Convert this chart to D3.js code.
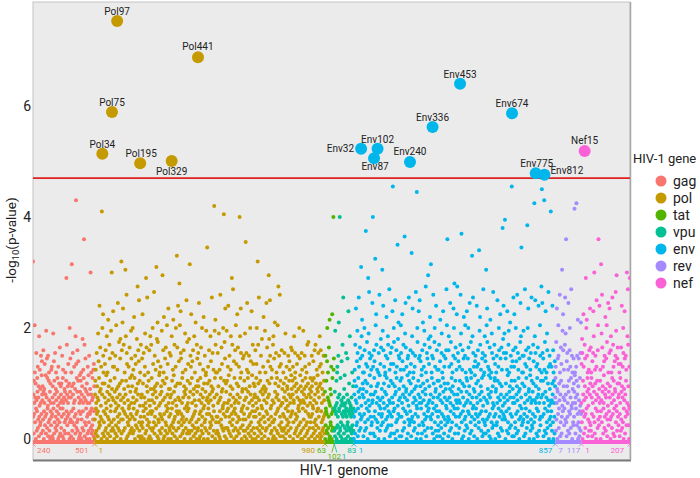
<!DOCTYPE html>
<html><head><meta charset="utf-8">
<script src="https://cdn.jsdelivr.net/npm/d3@7"></script>
<style>body{margin:0;background:#fff}svg{display:block}</style>
</head><body>
<script>
// ---------------- DATA ----------------
const genes = ["gag","pol","tat","vpu","env","rev","nef"];
const geneStart = [240,1,63,1,1,7,1];
const geneEnd   = [501,980,102,83,857,117,207];
const geneColors = ["#F8766D","#C49A00","#53B400","#00C094","#00B6EB","#A58AFF","#FB61D7"];
const yTicks = [0,2,4,6];
const threshold = 4.70;

// -log10(p) per position, one character each: value = (charCode - 35) / 20
const gagCodes = [
"c+3%8,0L;)27#.B1&-94='*26$H+/<(5)0A%,:?3",
"16&*C4#-50>(+3:%J,2@'9./A$)8;1&*4#7-0(<+",
"=$,26#I.0?%8)3B'+5;1&-4(9*/#=,27$)D0%.63",
"'7+1A$.9<0#,2&5)4%;*18]-E3(+60>%,27#K)4@",
"*2$;-b6&)B3#.70=(+15%H,y>'9)4C&*8?2#-0$:",
"4%,81;#*36'G-0<&9k2E$)5@1(.4#7+0%=,3:&)A",
"0#,5-_'3;%.1(9&2*<$>-6"];
const polCodes = [
"#*38%<.0&B,62$-I1?'9)S4(D+5/=#*u3K7%PA;-",
")$72>&,C0':.H#4;+%N16*(E3@$8-/J&)_52B'=Q",
"1&*=#94-A%0(L.5$2<+T'6/)F&,37@G#1*c%C8.M",
"*R2&E-50;',`3H8#WB>+$)16(=./%D*94&,J0@':",
"6+K%2<.&O09*#A4>(5,1G'-Z73C$?U)&8/;#+E2(",
"$3@)P'7/-B#+2:=I%0.]&D6*V4(,;#81)C$/'H-5",
"#E,91&-K3>'5)X0%A+64<(.a2G7$MF?*#)/:&;,3",
"0=%6+4J'*^81C#;O,$72@&)D/(9-L%3>.#R05+'B",
"&52,A#3(H.8%0<)N':4*E$+16=K&/-e#D7,S2')?",
"-[1L7$QB@,(*09%;+2&C)64#.I3<'5*U/%F-80>&",
".2G%)b74A#=P*&90?(+C3$5,H'1;-%M/6)#E4@&8",
"'B6*T1#,>$93-D&0(K+5%2<.O#7/)A'*4:;J&1,h",
"27#=.0%C,83')H1?(6+V4$B*5/<&-w2J9#NE;)%+",
"3;&+B0%6)I$1<-#W29*(D4>'5./K&,t80F$@R+'7",
"4#J-8'0=.S&:1+A%)36<H$/,](E5*Y2&-?#90.C'",
",L1>$7)P3&D+60=%*s2H9'RB;-#.45(@*/&A,81$",
"I&*j52B#<T.'94;%+A0(6,K$3?)&Q1:-#E/>'7+2",
"%63-C#+09>K'2.c$E7)V1&,;(84*A%/#G.5'3=+O",
"+61$)J4;&5-T0'D,82?#*^3G7(UA=.%+/9&<)1#E",
")H$0@*'M47,#B2;&9-3L%.Z61A(=W+$8/>')C0&5",
"0$,;&72+B'4#I.9%1=*6(5/-A&)38?<$0+2'D:,5",
"C-83=#)10H6%9B;,&*47'>+2$A.5/(-K1@%:)60#",
"&B4<#8.1J'*350A$=9-(62;%)E/&7,F#3>+'509)",
"2+4$A6,8/'.?%91)C#3&E*7(0<-5$:4.B'+26=H%",
"#7C>-$)05&;*3'A+81%,G2@(6.94#B):/=$*20F7"];
const tatCodes = [
"4#A(.-8&,?K%2;'1+D#0N$/5)(3=,#&P9'-.s<@'+"];
const vpuCodes = [
"&.4$J-/,'8#0;=(+2A%M-.3s'&9$)/1?,#0E(+V2-",
"%5/:'-,0#B.&+3(@)$1Q-'7,0H&.#/+'2%-;(,#6&.9"];
const envCodes = [
"#+38<%E-1R6(0?)JB$.94V=&2,D5@'*a/H+NA37;",
"5$2;,KC&)80n>'4.F7=#*]1I-XB/:@%+36<(A)0T",
"1s=%3+C9?$-d4L*PE06<')27;#B,/W:&1>.GD(+5",
",`2J)SC07=#.4:;&A*3O9'/@+HE(-61Y<$0,B8>%",
"(D+2Q7~0>-KF%.63U;#4)C9=&*i/G,MA15@$+28<",
"LB$+90P?&3.E6<')l2I-TD45=#,1:@%A*/V8(3;)",
"-C7>$*f4H+RB09;&)25='A,1X6#/|.KF%+83Q@(0",
"UA26?#.0:<%C)4M7(1=,JE&*53Z;$/+B8@'-^0G.",
">61DO+H3b*';9A,0%@W27.#FK)=4&5S/-C$<82+(",
"&<8E-3$?N16)'BI,;0#9Q4+A%=72*(@5/CY.L1k)",
"7+$CH*=2&5T0-F'>94)#;6/AR,K3[.%@8D+1(<P0",
"Z3.B%?51+'=80EW,I4m)#<7C-2$@O/6*&AL+;0(9",
"4Q8'1@-KD#,63T<%0)F9;&+e2H.VB/5=$*4:?(A,",
".72S=#0+C8>')g3J,OE16<&-49@$B*/Y:%2;)HA(",
"?%-`1L*RF05=&+3:<$D,2N9#4;)IB'.60X@(/+E8",
"9>#,45;(A)0U8%2=.KC$+71P@'3-D6<&*o/G,SB2",
"+I0r*#@7B-3&<Q1:)%EJ.;4'6M2,A(=8~+$?50CV",
"2$=P08)'DK,?3%6W1-B&<94*#@5/FT+H2h.(;7A)",
";*JA$,60Y>%3.C9='+p1K)RD45@#-2:<&B*0V8(1",
"'4,E7?#)x1H+UB06=%.29>$D-3S5&0<*LA(+82Z;",
"}+TB38@$,0y<&F.4Q9%2;)IC'-71X=#/*A5>(+u0",
"-=1&7S3)C#;80+%?62AO)J4'5.<"];
const revCodes = [
"29=&F*0R5#4@,LA'.71W;$3)D8>%+`/J-PC26<(.",
"1EV*I3k)$?6B+0&<T48-%CK,=2'9Y/.A#;50)(@7",
"+4v:;0%2.=x8(A3,N#6)@1'$-9/B&M,"];
const nefCodes = [
"0>)GB#-83P=%1+E6@',]2K.NA49;$*/5<&C)3R7(",
"D&;92,$?60BQ+H4_)%<7A.1#=U38-'CL*k2(5S0+",
"8<#-b1I)WD46=%.0:?'A+3O5&2@,LF$*7/T;(4-B",
"R26*#CH+;0'9V3,E%=81.$?54AX)J/^-&@7D+2(>",
"37;$,09>&D*4S6'2=)KB#.51Q@%3+A8<(-_0H,YE",
"6(/#=.]9"];

// significant hits
const hitLabel = ["Pol34","Pol75","Pol97","Pol195","Pol329","Pol441","Env32","Env87","Env102","Env240","Env336","Env453","Env674","Env775","Env812","Nef15"];
const hitGene  = ["pol","pol","pol","pol","pol","pol","env","env","env","env","env","env","env","env","env","nef"];
const hitPos   = [34,75,97,195,329,441,32,87,102,240,336,453,674,775,812,15];
const hitVal   = [5.14,5.89,7.53,4.97,5.01,6.88,5.23,5.06,5.23,4.99,5.62,6.40,5.87,4.79,4.76,5.19];

// ---------------- DRAW ----------------
const W = 700, H = 478;
const P = {l:33, r:630, t:2, b:460};
const codeSets = [gagCodes, polCodes, tatCodes, vpuCodes, envCodes, revCodes, nefCodes];
const lens = genes.map((g,i)=>geneEnd[i]-geneStart[i]+1);
const offs = []; lens.reduce((a,b,i)=>{offs[i]=a; return a+b;},0);
const total = d3.sum(lens);
const color = d3.scaleOrdinal().domain(genes).range(geneColors);

const x = d3.scaleLinear().domain([0,total]).range([P.l,P.r]);
const y = d3.scaleLinear().domain([0,6]).range([439,106]);

const pts = [];
codeSets.forEach((arr,k)=>{
  const s = arr.join("");
  for (let i=0;i<Math.min(s.length,lens[k]);i++){
    pts.push({gene:genes[k], idx:offs[k]+i, v:(s.charCodeAt(i)-35)/20});
  }
});

const svg = d3.select("body").append("svg").attr("width",W).attr("height",H)
  .style("font-family","Roboto, 'Noto Sans', sans-serif");

svg.append("defs").append("clipPath").attr("id","pc")
  .append("rect").attr("x",P.l).attr("y",P.t).attr("width",P.r-P.l).attr("height",P.b-P.t);

svg.append("rect").attr("x",P.l).attr("y",P.t).attr("width",P.r-P.l).attr("height",P.b-P.t)
  .attr("fill","#ebebeb").attr("stroke","#c4c4c4").attr("stroke-width",1);
svg.append("line").attr("x1",P.l).attr("x2",P.r+1).attr("y1",P.b+0.5).attr("y2",P.b+0.5)
  .attr("stroke","#7a7a7a").attr("stroke-width",2);
svg.append("line").attr("x1",P.r+0.5).attr("x2",P.r+0.5).attr("y1",P.t).attr("y2",P.b)
  .attr("stroke","#a6a6a6").attr("stroke-width",1.5);

const plot = svg.append("g").attr("clip-path","url(#pc)");

plot.append("g").selectAll("circle").data(pts).join("circle")
  .attr("cx",d=>x(d.idx)).attr("cy",d=>y(d.v)).attr("r",2)
  .attr("fill",d=>color(d.gene));

plot.append("line").attr("x1",P.l).attr("x2",P.r).attr("y1",y(threshold)).attr("y2",y(threshold))
  .attr("stroke","#e02020").attr("stroke-width",1.6);

const hits = hitLabel.map((l,i)=>{
  const k = genes.indexOf(hitGene[i]);
  return {label:l, gene:hitGene[i], idx:offs[k]+hitPos[i]-geneStart[k], v:hitVal[i]};
});
plot.append("g").selectAll("circle").data(hits).join("circle")
  .attr("cx",d=>x(d.idx)).attr("cy",d=>y(d.v)).attr("r",6)
  .attr("fill",d=>color(d.gene));

// label placement (ggrepel-like)
const place = {
  Pol97:["middle",0,-6], Pol441:["middle",0,-7], Pol75:["middle",0,-6], Pol34:["middle",0,-6],
  Pol195:["middle",1,-6], Pol329:["middle",0,14], Env32:["end",-7,3], Env87:["middle",1,12],
  Env102:["middle",0,-6], Env240:["middle",0,-7], Env336:["middle",0,-6], Env453:["middle",0,-6],
  Env674:["middle",0,-6], Env775:["middle",1,-6], Env812:["start",6,-1], Nef15:["middle",0,-7]
};
svg.append("g").selectAll("text").data(hits).join("text")
  .attr("x",d=>x(d.idx)+place[d.label][1]).attr("y",d=>y(d.v)+place[d.label][2])
  .attr("text-anchor",d=>place[d.label][0])
  .attr("font-size",10).attr("fill","#222").text(d=>d.label);

// gene strip
const strip = svg.append("g");
genes.forEach((g,k)=>{
  const xs = x(offs[k]), xe = x(offs[k]+lens[k]);
  strip.append("rect").attr("x",xs).attr("y",440).attr("width",xe-xs).attr("height",4).attr("fill",color(g));
});
// strip labels
const lab = svg.append("g").attr("font-size",8);
genes.forEach((g,k)=>{
  const xs = x(offs[k]), xe = x(offs[k]+lens[k]);
  let sx = xs+4, sy = 452.5, sa = "start";
  let ex = xe-6, ey = 452.5, ea = "end";
  if (g==="pol"){ ex = xe-10; }
  if (g==="tat"){ sx = xs+1; sa = "end"; ex = xs+2.5; ey = 458.5; ea = "start"; }
  if (g==="vpu"){ sx = xs+7.5; sy = 458.5; ex = xe+2.5; }
  if (g==="env"){ sx = xs+5; ex = xe-3; }
  if (g==="rev"){ sx = xs+3; ex = xe-1; }
  lab.append("text").attr("x",sx).attr("y",sy).attr("text-anchor",sa).attr("fill",color(g)).text(geneStart[k]);
  lab.append("text").attr("x",ex).attr("y",ey).attr("text-anchor",ea).attr("fill",color(g)).text(geneEnd[k]);
  lab.append("path").attr("d",`M${xs},444 L${xs+2.5},${sy-6}`).attr("stroke",color(g)).attr("fill","none").attr("stroke-width",0.8);
  lab.append("path").attr("d",`M${xe},444 L${xe-2.5},${ey-6}`).attr("stroke",color(g)).attr("fill","none").attr("stroke-width",0.8);
});

// y axis
svg.append("g").selectAll("text").data(yTicks).join("text")
  .attr("x",31).attr("y",d=>y(d)+5).attr("text-anchor","end")
  .attr("font-size",14).attr("fill","#222").text(d=>d);

const yl = svg.append("text").attr("transform","translate(16,240) rotate(-90)")
  .attr("text-anchor","middle").attr("font-size",13.5).attr("fill","#222");
yl.append("tspan").text("-log");
yl.append("tspan").attr("font-size",9.5).attr("dy",3).text("10");
yl.append("tspan").attr("dy",-3).text("(p-value)");

svg.append("text").attr("x",344).attr("y",475).attr("text-anchor","middle")
  .attr("font-size",14).attr("fill","#222").text("HIV-1 genome");

// legend
const lg = svg.append("g");
lg.append("text").attr("x",633).attr("y",163).attr("font-size",13).attr("fill","#222").text("HIV-1 gene");
genes.forEach((g,k)=>{
  lg.append("circle").attr("cx",661).attr("cy",181+k*17).attr("r",5.5).attr("fill",color(g));
  lg.append("text").attr("x",673).attr("y",186+k*17).attr("font-size",14).attr("fill","#222").text(g);
});
</script>
</body></html>
